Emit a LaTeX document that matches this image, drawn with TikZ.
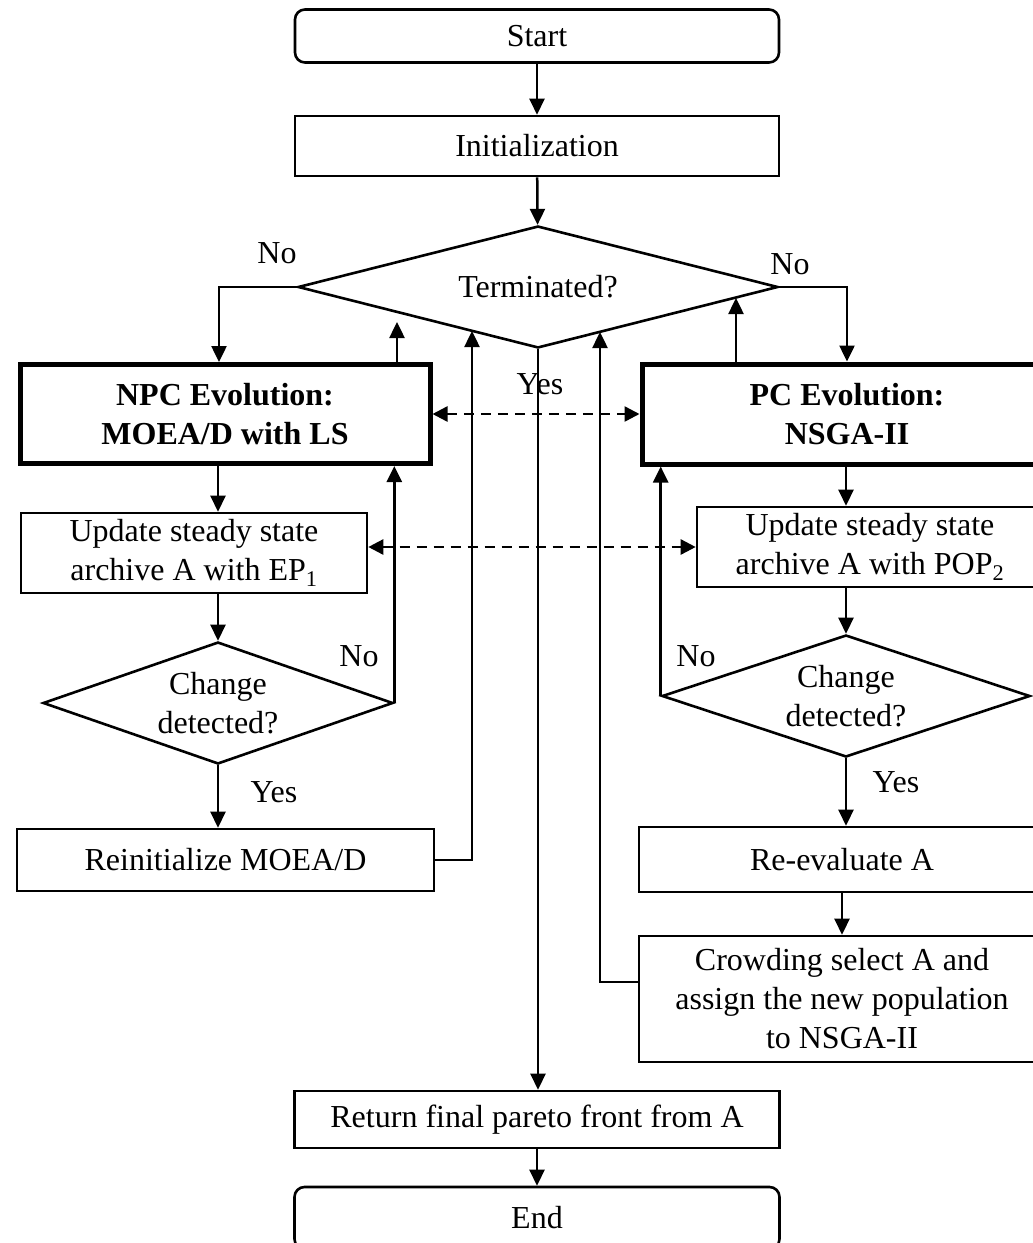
\documentclass[tikz,border=0pt]{standalone}
\usepackage{fontspec}
\setmainfont{Liberation Serif}
\usetikzlibrary{arrows.meta,shapes.geometric}
\begin{document}
\begin{tikzpicture}[x=1pt,y=-1pt,
  every node/.style={font=\fontsize{32}{39}\selectfont},
  box/.style={draw,line width=2.6pt,inner sep=0pt,align=center},
  thickbox/.style={draw,line width=5pt,inner sep=0pt,align=center,font=\fontsize{32}{39}\selectfont\bfseries},
  termbox/.style={box,rounded corners=10pt},
  dec/.style={draw,shape=diamond,line width=2.6pt,inner sep=0pt},
  arr/.style={line width=2.5pt,-{Triangle[length=16pt,width=15pt]}},
  dash2/.style={line width=2.5pt,dash pattern=on 10pt off 7pt,{Triangle[length=15pt,width=15pt]}-{Triangle[length=15pt,width=15pt]}},
  lab/.style={inner sep=0pt}
]
\useasboundingbox (0,0) rectangle (1033,1243);
\clip (0,0) rectangle (1033,1243);

% nodes
\node[termbox,minimum width=484pt,minimum height=53pt] (start) at (537,36) {Start};
\node[box,minimum width=484pt,minimum height=60pt] (init) at (537,146) {Initialization};
\node[dec,minimum width=480pt,minimum height=122pt,label={[lab]center:Terminated?}] (term) at (538,287) {};
\node[thickbox,minimum width=410pt,minimum height=99pt] (npc) at (225,414) {NPC Evolution:\\MOEA/D with LS};
\node[thickbox,minimum width=410pt,minimum height=100pt] (pc) at (847,414) {PC Evolution:\\NSGA-II};
\node[box,minimum width=346pt,minimum height=80pt] (up1) at (194,553) {Update steady state\\archive A with EP\textsubscript{1}};
\node[box,minimum width=346pt,minimum height=80pt] (up2) at (870,547) {Update steady state\\archive A with POP\textsubscript{2}};
\node[dec,minimum width=350pt,minimum height=122pt,label={[lab,align=center]center:Change\\detected?}] (ch1) at (218,703) {};
\node[dec,minimum width=368pt,minimum height=122pt,label={[lab,align=center]center:Change\\detected?}] (ch2) at (846,696) {};
\node[box,minimum width=417pt,minimum height=62pt] (reinit) at (225.5,860) {Reinitialize MOEA/D};
\node[box,minimum width=406pt,minimum height=65pt] (re) at (842,859.5) {Re-evaluate A};
\node[box,minimum width=406pt,minimum height=126pt] (crowd) at (842,999) {Crowding select A and\\assign the new population\\to NSGA-II};
\node[box,minimum width=485pt,minimum height=57pt] (ret) at (537,1119.5) {Return final pareto front from A};
\node[termbox,minimum width=485pt,minimum height=62pt] (end) at (537,1218) {End};

% helper coordinates
\coordinate (a1) at (397,322);
\coordinate (a2) at (472,331);
\coordinate (a3) at (600,332);
\coordinate (a4) at (736,298);
\coordinate (nL) at (219,0);

% connectors
\draw[arr] (start) -- (init);
\draw[arr] (init) -- (term);
\draw[arr] (term.west) -| (nL |- npc.north);
\draw[arr] (term.east) -| (pc.north);
\draw[arr] (a1 |- npc.north) -- (a1);
\draw[arr] (a4 |- pc.north) -- (a4);
\draw[arr] (term.south) -- (term.south |- ret.north);
\draw[dash2] (npc.east) -- (pc.west);
\draw[dash2] (up2.west -| up1.east) -- (up2.west);
\draw[arr] (npc.south -| ch1) -- (up1.north -| ch1);
\draw[arr] (up1.south -| ch1) -- (ch1.north);
\draw[arr] (ch1.east) -- (ch1.east |- npc.south);
\draw[arr] (ch1.south) -- (ch1.south |- reinit.north);
\draw[arr] (reinit.east) -| (a2);
\draw[arr] (pc.south -| ch2) -- (up2.north -| ch2);
\draw[arr] (up2.south -| ch2) -- (ch2.north);
\draw[arr] (ch2.west) -- (ch2.west |- pc.south);
\draw[arr] (ch2.south) -- (ch2.south |- re.north);
\draw[arr] (re) -- (crowd);
\draw[arr] ([yshift=17pt]crowd.west) -| (a3);
\draw[arr] (ret) -- (end);

% branch labels
\node[lab] (no1) at (277,253) {No};
\node[lab] (no2) at (790,264) {No};
\node[lab] (yes1) at (540,384) {Yes};
\node[lab] (no3) at (359,656) {No};
\node[lab] (yes3) at (274,792) {Yes};
\node[lab] (no4) at (696,656) {No};
\node[lab] (yes4) at (896,782) {Yes};
\end{tikzpicture}
\end{document}
